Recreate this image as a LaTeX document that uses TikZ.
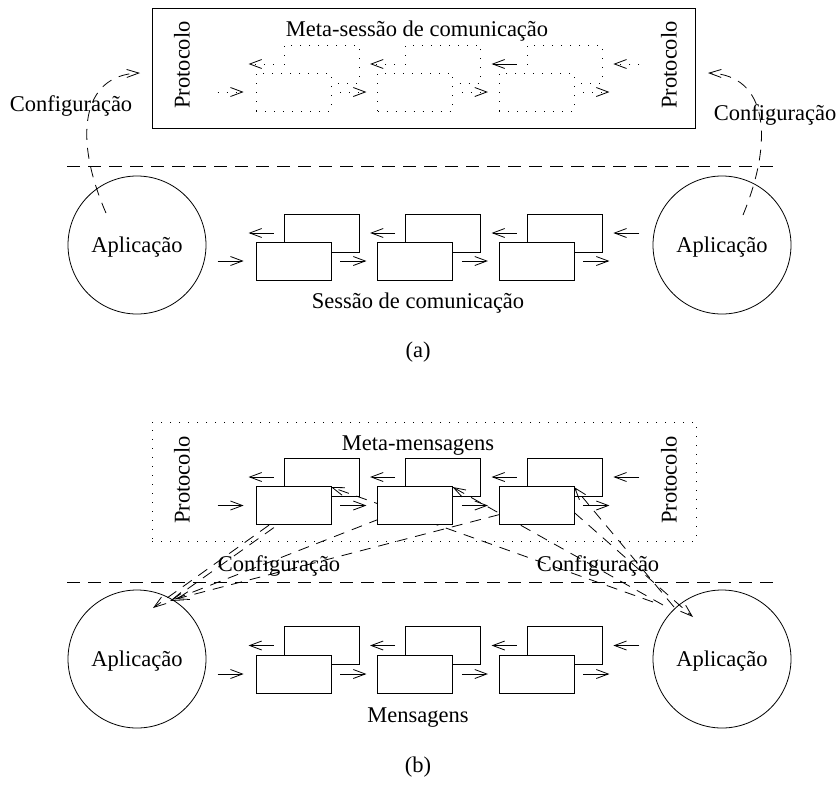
\documentclass[tikz,border=0pt]{standalone}
\usepackage{fontspec}
\setmainfont{Liberation Serif}
\usetikzlibrary{arrows.meta}
\begin{document}
\begin{tikzpicture}[x=1pt,y=-1pt,
  every node/.style={font=\fontsize{22.5}{27}\selectfont, inner sep=0pt},
  thin line/.style={line width=0.8pt},
  msg/.style={thin line, draw, fill=white, minimum width=75pt, minimum height=38pt},
  dotmsg/.style={msg, dash pattern=on 1pt off 8pt},
  arr/.style={thin line, -{Straight Barb[length=12pt,width=9pt]}},
  dotarr/.style={arr, dash pattern=on 1pt off 8pt},
  dash line/.style={thin line, dash pattern=on 13pt off 8pt},
  cfgline/.style={thin line, dash pattern=on 11pt off 8pt},
  cfg/.style={cfgline, -{Straight Barb[length=12pt,width=8pt]}},
  app/.style={thin line, draw, circle, minimum size=138pt},
  lbl/.style={anchor=base}
]
\useasboundingbox (0,0) rectangle (840,785);

% ================= (a) =================
\node[thin line, draw, minimum width=543pt, minimum height=120pt] (frameA) at (423.5,68) {};
\node[lbl] (metaA) at (417,36) {Meta-sessão de comunicação};
\node[rotate=90] (protAl) at (182,65) {Protocolo};
\node[rotate=90] (protAr) at (669,65) {Protocolo};

% dotted meta-session chain
\foreach \i/\x in {1/293.5,2/415,3/536.5}{
  \node[dotmsg] (bA\i) at (\x+28,64) {};
  \node[dotmsg] (fA\i) at (\x,92) {};
}
\draw[dotarr] ([xshift=-38pt]fA1.west) -- ++(26,0);
\foreach \i in {1,2,3}{
  \draw[dotarr] ([xshift=9pt]fA\i.east) -- ++(26,0);
}
\draw[dotarr] ([xshift=-10pt]bA1.west) -- ++(-25,0);
\draw[dotarr] ([xshift=-10pt]bA2.west) -- ++(-25,0);
\draw[arr] ([xshift=-10pt]bA3.west) -- ++(-25,0);
\draw[dotarr] ([xshift=37pt]bA3.east) -- ++(-26,0);

\draw[dash line] (67,166) -- (778,166);

\node[app] (appAl) at (137,245) {};
\node[lbl] at (137,252) {Aplicação};
\node[app] (appAr) at (722,245) {};
\node[lbl] at (722,252) {Aplicação};

% communication session chain
\foreach \i/\x in {1/293.5,2/415,3/536.5}{
  \node[msg] (sbA\i) at (\x+28,233) {};
  \node[msg] (sfA\i) at (\x,261) {};
}
\draw[arr] ([xshift=-38pt]sfA1.west) -- ++(26,0);
\foreach \i in {1,2,3}{
  \draw[arr] ([xshift=9pt]sfA\i.east) -- ++(26,0);
  \draw[arr] ([xshift=-10pt]sbA\i.west) -- ++(-25,0);
}
\draw[arr] ([xshift=37pt]sbA3.east) -- ++(-26,0);

\node[lbl] (sessA) at (418,308) {Sessão de comunicação};
\node[lbl] (capA) at (418,357) {(a)};

% each application configures the protocol
\node[lbl] (cfgAl) at (71,111) {Configuração};
\node[lbl] (cfgAr) at (775,120) {Configuração};
\coordinate (tipAl) at (140,73);
\coordinate (tipAr) at (708,73);
\draw[cfg] ([shift={(-31,-32)}]appAl.center) .. controls (74,140) and (80,75) .. (tipAl);
\draw[cfg] ([shift={(21,-30)}]appAr.center) .. controls (774,140) and (768,75) .. (tipAr);

% ================= (b) =================
\node[thin line, draw, dash pattern=on 1pt off 8pt, minimum width=544pt, minimum height=119pt] (frameB) at (424,481.5) {};
\node[lbl] (metaB) at (418,450) {Meta-mensagens};
\node[rotate=90] (protBl) at (182,480) {Protocolo};
\node[rotate=90] (protBr) at (669,480) {Protocolo};

% back meta-messages first, then configuration lines, then front meta-messages
\foreach \i/\x in {1/293.5,2/415,3/536.5}{
  \node[msg] (bB\i) at (\x+28,477) {};
}
\coordinate (fc1) at (331,487);
\coordinate (fc2) at (452.5,487);
\coordinate (fc3) at (574,487);

% left application
\node[app] (appBl) at (137,659) {};
\node[lbl] at (137,666) {Aplicação};
\draw[cfg] (300,503) -- (153,608);
\draw[cfgline] (172,600) -- (fc1);
\draw[cfg] (415,505) -- (170,601);
\draw[cfg] (536,505) -- (176,599);

% right application
\node[app] (appBr) at (722,659) {};
\node[lbl] at (722,666) {Aplicação};
\draw[cfg] (653,602) -- (fc1);
\draw[cfg] (663,605) -- (fc2);
\draw[cfg] (674,607) -- (fc3);
\draw[cfg] (560,500) -- (693,617);

\node[lbl] (cfgBl) at (279,571) {Configuração};
\node[lbl] (cfgBr) at (598,571) {Configuração};

\foreach \i/\x in {1/293.5,2/415,3/536.5}{
  \node[msg] (fB\i) at (\x,505.5) {};
}
\draw[arr] ([xshift=-38pt]fB1.west) -- ++(26,0);
\foreach \i in {1,2,3}{
  \draw[arr] ([xshift=9pt]fB\i.east) -- ++(26,0);
  \draw[arr] ([xshift=-10pt]bB\i.west) -- ++(-25,0);
}
\draw[arr] ([xshift=37pt]bB3.east) -- ++(-26,0);

\draw[dash line] (67,582) -- (778,582);

% message chain
\foreach \i/\x in {1/293.5,2/415,3/536.5}{
  \node[msg] (sbB\i) at (\x+28,645.5) {};
  \node[msg] (sfB\i) at (\x,674) {};
}
\draw[arr] ([xshift=-38pt]sfB1.west) -- ++(26,0);
\foreach \i in {1,2,3}{
  \draw[arr] ([xshift=9pt]sfB\i.east) -- ++(26,0);
  \draw[arr] ([xshift=-10pt]sbB\i.west) -- ++(-25,0);
}
\draw[arr] ([xshift=37pt]sbB3.east) -- ++(-26,0);

\node[lbl] (mensB) at (418,722) {Mensagens};
\node[lbl] (capB) at (418,772) {(b)};
\end{tikzpicture}
\end{document}
